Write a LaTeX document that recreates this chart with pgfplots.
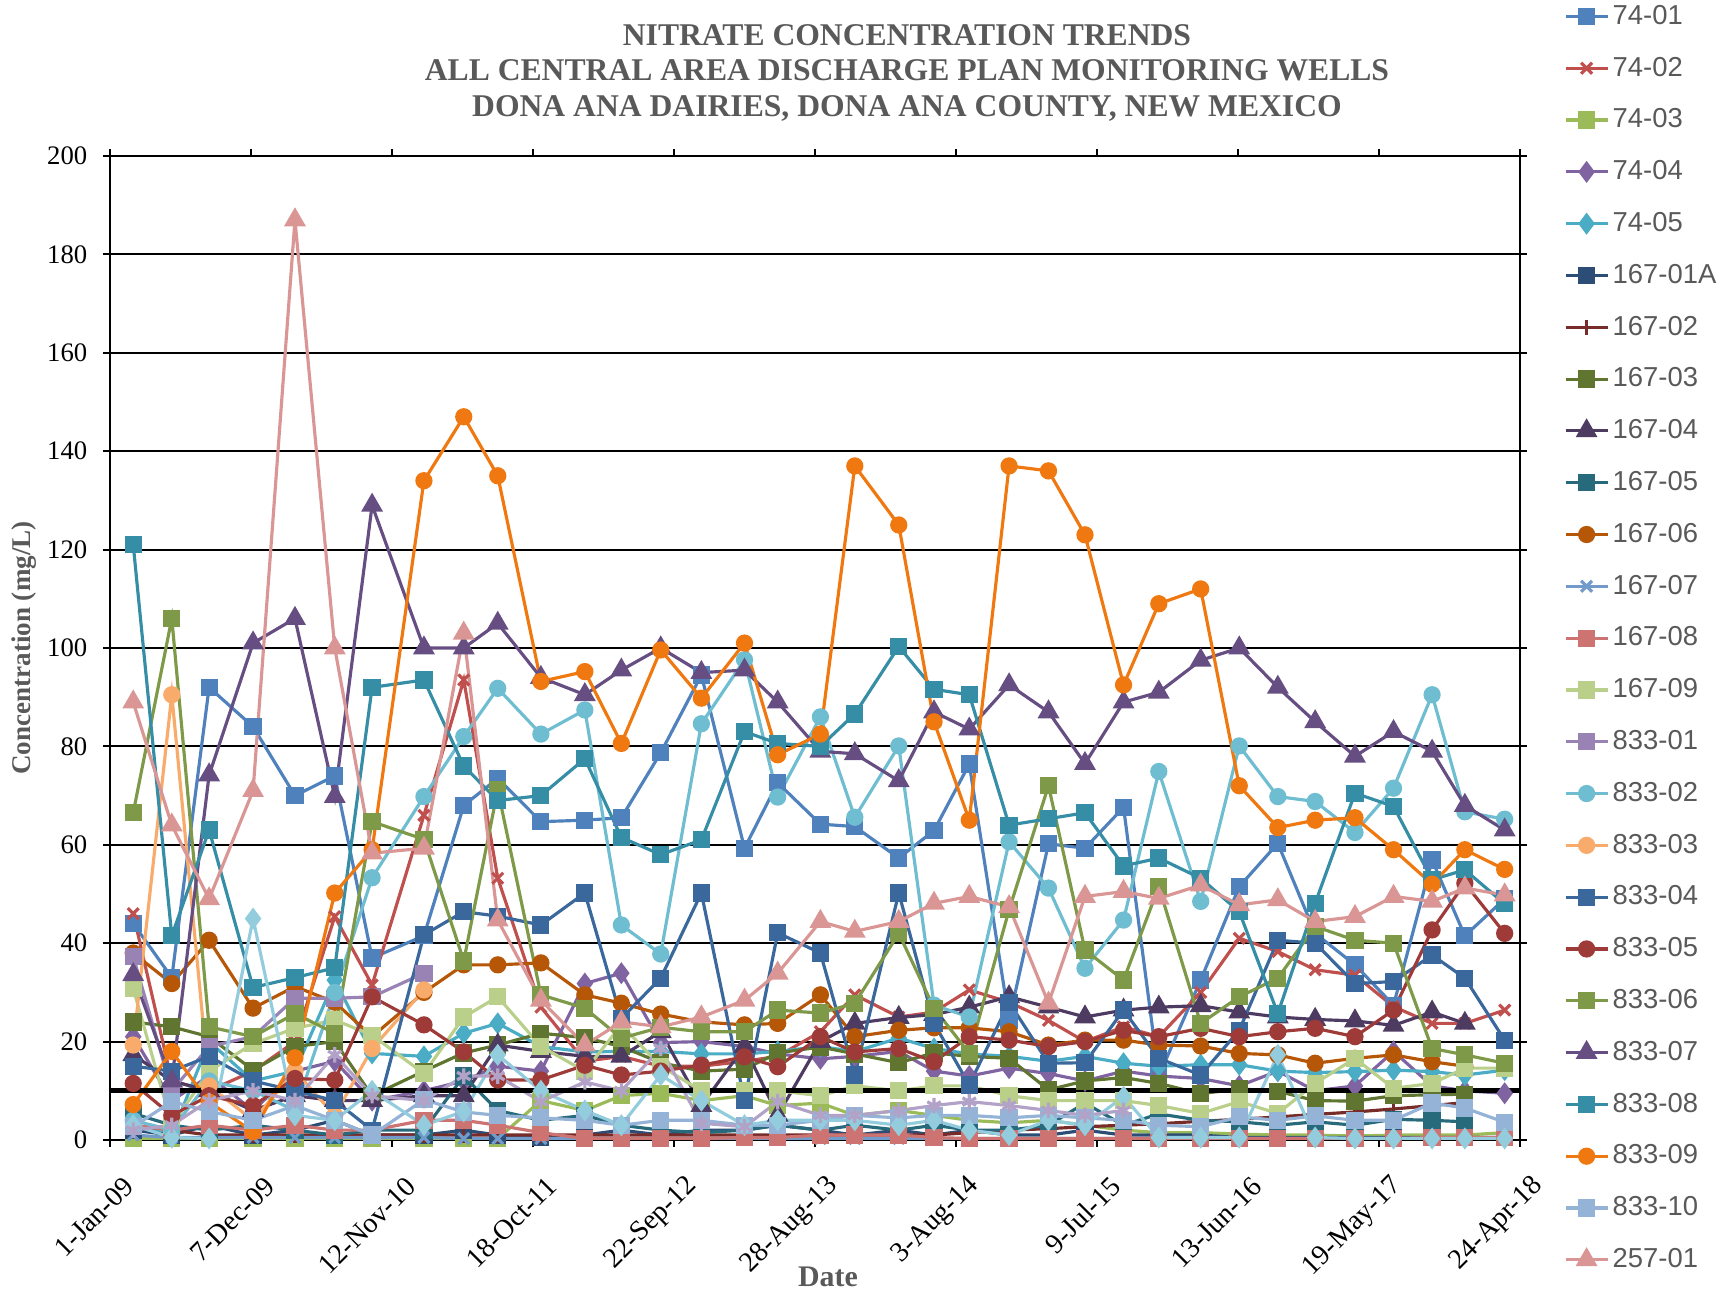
\documentclass[border=0pt]{standalone}
\usepackage{fontspec}
\setmainfont{Liberation Serif}
\newfontfamily\legfont{Liberation Sans}
\usepackage{pgfplots}
\usepackage{pgfplotstable}
\pgfplotsset{compat=1.18}

\definecolor{cA}{HTML}{4F81BD}
\definecolor{cB}{HTML}{C0504D}
\definecolor{cC}{HTML}{9BBB59}
\definecolor{cD}{HTML}{8064A2}
\definecolor{cE}{HTML}{4BACC6}
\definecolor{cF}{HTML}{2C4D75}
\definecolor{cG}{HTML}{772C2A}
\definecolor{cH}{HTML}{5F7530}
\definecolor{cI}{HTML}{4D3B62}
\definecolor{cJ}{HTML}{276A7C}
\definecolor{cK}{HTML}{B65708}
\definecolor{cL}{HTML}{729ACA}
\definecolor{cM}{HTML}{CD7371}
\definecolor{cN}{HTML}{B9CF8A}
\definecolor{cO}{HTML}{9983B5}
\definecolor{cP}{HTML}{6FBDD1}
\definecolor{cQ}{HTML}{F9AB6B}
\definecolor{cR}{HTML}{3A679C}
\definecolor{cS}{HTML}{9E3B39}
\definecolor{cT}{HTML}{7E9A48}
\definecolor{cU}{HTML}{664E83}
\definecolor{cV}{HTML}{358EA6}
\definecolor{cW}{HTML}{F07810}
\definecolor{cX}{HTML}{95B3D7}
\definecolor{cY}{HTML}{D99694}
\definecolor{cZ}{HTML}{93CDDD}
\definecolor{cZZ}{HTML}{B3A2C7}
\definecolor{txtgray}{HTML}{595959}

% d = days since 1-Jan-2009
\pgfplotstableread{
d s1 s2 s3 s4 s5 s6 s7 s8 s9 s10 s11 s12 s13 s14 s15 s16 s17 s18 s19 s20 s21 s22 s23 s24 s25 s26 s27
56 44 46 0.3 21 3 2 3 24 17.3 5.4 38 1 3 30.8 37.3 4 19.3 15 11.5 66.5 33.6 121 7.2 2.7 89 3 2
149 33 12 0.3 8 1 1 2 23 12 3 31.8 0.5 2 3 10 2 90.5 14 5 106 12 41.5 18 7.8 64 0.5 3
239 92 10 0.3 13 20 3 1 21 10 2 40.6 0.5 3 14 19 12 11 17 9 23 74.2 63 7.7 5.8 49 0.3 8
345 84 14 0.3 6 12 1 1 14.2 6 3 26.8 0.5 2 19.6 21 10 4 12 7 21 101 31 1.7 4 71 45 10
446 70 20 0.3 14 14 2 1 19 9 2 31.2 0.5 3 22.7 28.8 6 14 10 12.5 25.7 106 33 16.7 7 187 5 8
542 74 45.4 0.3 16 32.5 4 1 20 8 1 28 0.5 2 24.4 28.8 30 5 8 12.2 21.7 69.8 35 50.2 4 100 4 17.3
632 37 31.5 0.3 8 17.6 1 1 9 8 2 21 0.5 2 21.3 29.1 53.3 18.6 2 29.1 64.7 129 92 59 1 58.3 10 9
757 41.5 66 0.3 10 17 1 1 14 9 2 30 0.5 4 13.5 33.9 69.8 30.5 41.7 23.4 61.1 100 93.5 134 8.2 59.3 3 8
853 68 93.5 0.3 12 21.7 2 1 17.7 9 13 35.6 0.3 4 25 nan 82 nan 46.4 17.9 36.4 100 76 147 5.7 103 5.8 13
935 73.5 53.2 0.3 15 23.7 1 1 19.3 19.3 6 35.6 0.3 3 29.1 nan 91.8 nan 45.5 12.2 71.2 105 69 135 5 44.7 17.3 13
1039 64.7 27 8 14 19 0.5 1 21.7 18 4 36 0.3 1.5 19 nan 82.5 nan 43.7 12.2 29.5 94 70 93.2 4.5 28.4 10 7.8
1145 65 16 6 31.8 17.9 1 1 20.8 17 5 29.5 0.3 0.3 14 nan 87.4 nan 50.2 15.2 26.8 90.5 77.5 95.2 4 19.3 6 11.8
1233 65.5 17 9 33.9 18 2 1 19 17 3 27.8 0.3 0.3 23.4 nan 43.7 nan 24.7 13.2 20.7 95.5 61.5 80.6 3 24 3 10
1328 78.7 15 9.5 19.8 18 1 1 15.7 22 2 25.6 0.3 0.3 15 nan 37.8 nan 32.9 14 22.9 100 58 99.6 4 23 13.2 18.6
1426 94.5 15 8 20 17.5 2 1 14 7 1.5 24 0.3 0.3 10 nan 84.6 nan 50.2 15.2 22 95 61 89.8 4 25 8 3.4
1530 59.3 16 9 19 17.5 2 1 14.4 19 2 23.4 0.3 0.5 10 nan 97.6 nan 8 16.9 22 95.5 83 101 3 28.4 3 2.7
1610 72.6 17 7 17.5 18 3 1 17.7 5 3 23.7 0.3 0.5 10 nan 69.7 nan 42.1 14.9 26.4 89 80.6 78.3 3 33.9 4 7.8
1713 64.2 22 7.5 16.5 19 2 1 18.9 20 2 29.5 0.3 1 9 nan 86 nan 38 21 25.8 79 80 82.5 4 44.4 4 5
1796 63.7 29.5 5 17 18 1 1 17.5 23.7 3 21 0.3 1 11 nan 65.6 nan 13.2 17.9 27.8 78.5 86.6 137 5 42.4 4 5
1902 57.3 25 6 18 20.7 2 1 15.7 24.9 2 22.3 0.3 1 10 nan 80.1 nan 50.2 18.6 42 73 100.3 125 4.5 44.4 3 6
1987 62.9 26 5 14 18.6 1 1 17.7 25.5 3 22.8 0.3 0.5 11 nan 27.4 nan 23.7 15.9 26.8 87 91.6 85 5 48.1 4 7
2072 76.4 30.5 4 13 17.5 2 1.5 17 27 2 22.8 0.3 0.3 11 nan 25 nan 11.2 21 17.6 83.5 90.5 65 5 49.5 2 7.8
2168 24.4 28 3.5 14.6 17 1 2 16.6 29.1 2 22 0.3 0.3 9 nan 60.6 nan 28 20.3 46.8 92.5 64 137 4.5 47.4 1 7
2263 60.2 24.3 4 13.5 16 1 2.3 10.2 27 3 19.3 0.3 0.3 8 nan 51.2 nan 15.6 19 72 87 65.3 136 5 27.8 4 6
2351 59.3 20 3 12 17 2 2.7 12 25 7.5 20.3 0.3 0.3 8 nan 34.9 nan 15.7 20 38.6 76.5 66.5 123 4.5 49.5 3 5
2444 67.6 23 2 14 15.6 1 3 12.7 26.4 3 20.3 0.3 0.3 8 nan 44.7 nan 26.4 22.3 32.5 89 55.7 92.5 4 50.5 8.8 6
2529 13 21 1.5 13 15 1 3.3 11.5 27 5.3 19.3 0.3 0.3 7 nan 74.9 nan 16.6 21 51.5 91 57.3 109 3 49.1 0.5 nan
2630 32.5 30 1.5 12.5 15.3 1 3.8 9.4 27.3 4 19.1 0.3 0.3 5.4 nan 48.5 nan 13.2 22.7 23.7 97.5 53.2 112 2.7 51.8 0.5 nan
2723 51.5 41 1.2 11 15.3 0.5 4.2 10.4 26 3.7 17.6 0.3 0.3 7.8 nan 80.1 nan 22.3 21 29.1 100 46.4 72 4.7 47.8 0.5 nan
2816 60.3 38.3 1 14 14 0.5 4.7 9.9 25 3 17.3 0.3 0.3 5.4 nan 69.8 nan 40.6 22 32.9 92 25.7 63.5 4 48.8 17.3 nan
2906 42 34.6 1 10 13.7 0.5 5.2 8 24.5 3.7 15.6 0.3 0.3 11.5 nan 68.8 nan 40 22.7 43.4 85 48.1 65 4.9 44.4 0.5 nan
3002 35.6 33.5 0.8 11 13.9 0.5 5.7 7.9 24.2 3 16.6 0.3 0.3 16.6 nan 62.5 nan 31.8 21 40.6 78 70.5 65.5 4 45.4 0.3 nan
3095 27.4 27.1 1 18 14.2 0.5 6.3 9 23.3 4.2 17.3 0.3 0.3 10.5 nan 71.5 nan 32.2 26.4 40 83 67.8 59 4 49.5 0.3 nan
3188 56.9 23.7 1 11 13.9 0.5 7 9.2 26 4 15.9 0.3 0.5 11.5 nan 90.5 nan 37.6 42.7 18.6 79 52.9 52 7.5 48.5 0.3 nan
3267 41.5 23.7 1 10 13.2 0.5 7.6 9.3 23.7 3.7 15 0.3 0.5 14.6 nan 66.7 nan 32.9 52.2 17.3 68 54.9 59 6.5 51.2 0.3 nan
3363 49 26.4 1.5 9.5 14.2 0.5 nan nan nan nan nan 0.3 0.5 14.6 nan 65.2 nan 20.3 42 15.6 63 48 55 3.6 49.8 0.3 nan
}\data

\begin{document}
\begin{tikzpicture}
\useasboundingbox (0,0) rectangle (17.27cm,12.94cm);
\begin{axis}[
  at={(1.10cm,1.54cm)}, anchor=south west,
  scale only axis, width=14.1cm, height=9.84cm,
  xmin=0, xmax=3400, ymin=0, ymax=200,
  xtick={0,340,680,1020,1360,1700,2040,2380,2720,3060,3400},
  xticklabels={1-Jan-09,7-Dec-09,12-Nov-10,18-Oct-11,22-Sep-12,28-Aug-13,3-Aug-14,9-Jul-15,13-Jun-16,19-May-17,24-Apr-18},
  ytick={0,20,...,200},
  ymajorgrids, major grid style={black, line width=0.6pt},
  axis line style={black, line width=0.8pt},
  tick align=outside, major tick length=0.07cm, tick style={black, line width=0.6pt},
  /pgf/number format/assume math mode=true,
  xticklabel style={font=\fontsize{8}{9}\selectfont, rotate=45, anchor=east, inner sep=0pt, xshift=-0.11cm, yshift=-0.38cm},
  yticklabel style={font=\fontsize{7.6}{9}\selectfont, inner sep=0pt, anchor=east, xshift=-0.15cm},
  legend style={at={(axis description cs:1,1)}, anchor=north west, xshift=0.44cm, yshift=43.1pt,
    draw=none, fill=none, inner sep=0pt, outer sep=0pt,
    font=\legfont\fontsize{7.8}{8.5}\selectfont, text=txtgray,
    row sep=7.94pt, column sep=1pt,
    nodes={inner sep=0pt, text height=5.6pt, text depth=1.2pt}},
  legend cell align=left,
  legend image code/.code={\draw[mark repeat=2,mark phase=2,#1] plot coordinates {(0cm,0cm) (0.21cm,0cm) (0.42cm,0cm)};},
  every axis plot/.append style={line width=0.9pt, mark options={solid}},
]
\addplot[cA, mark=square*, mark size=2pt] table[x=d,y=s1]{\data}; \addlegendentry{74-01}
\addplot[cB, mark=x, mark size=2.2pt] table[x=d,y=s2]{\data}; \addlegendentry{74-02}
\addplot[cC, mark=square*, mark size=2pt] table[x=d,y=s3]{\data}; \addlegendentry{74-03}
\addplot[cD, mark=diamond*, mark size=2.4pt] table[x=d,y=s4]{\data}; \addlegendentry{74-04}
\addplot[cE, mark=diamond*, mark size=2.4pt] table[x=d,y=s5]{\data}; \addlegendentry{74-05}
\addplot[cF, mark=square*, mark size=2pt] table[x=d,y=s6]{\data}; \addlegendentry{167-01A}
\addplot[cG, mark=|, mark size=2.2pt] table[x=d,y=s7]{\data}; \addlegendentry{167-02}
\addplot[cH, mark=square*, mark size=2pt] table[x=d,y=s8]{\data}; \addlegendentry{167-03}
\addplot[cI, mark=triangle*, mark size=2.7pt] table[x=d,y=s9]{\data}; \addlegendentry{167-04}
\addplot[cJ, mark=square*, mark size=2pt] table[x=d,y=s10]{\data}; \addlegendentry{167-05}
\addplot[cK, mark=*, mark size=2pt] table[x=d,y=s11]{\data}; \addlegendentry{167-06}
\addplot[cL, mark=x, mark size=2.2pt] table[x=d,y=s12]{\data}; \addlegendentry{167-07}
\addplot[cM, mark=square*, mark size=2pt] table[x=d,y=s13]{\data}; \addlegendentry{167-08}
\addplot[cN, mark=square*, mark size=2pt] table[x=d,y=s14]{\data}; \addlegendentry{167-09}
\addplot[cO, mark=square*, mark size=2pt] table[x=d,y=s15]{\data}; \addlegendentry{833-01}
\addplot[cP, mark=*, mark size=2pt] table[x=d,y=s16]{\data}; \addlegendentry{833-02}
\addplot[cQ, mark=*, mark size=2pt] table[x=d,y=s17]{\data}; \addlegendentry{833-03}
\addplot[cR, mark=square*, mark size=2pt] table[x=d,y=s18]{\data}; \addlegendentry{833-04}
\addplot[cS, mark=*, mark size=2pt] table[x=d,y=s19]{\data}; \addlegendentry{833-05}
\addplot[cT, mark=square*, mark size=2pt] table[x=d,y=s20]{\data}; \addlegendentry{833-06}
\addplot[cU, mark=triangle*, mark size=2.7pt] table[x=d,y=s21]{\data}; \addlegendentry{833-07}
\addplot[cV, mark=square*, mark size=2pt] table[x=d,y=s22]{\data}; \addlegendentry{833-08}
\addplot[cW, mark=*, mark size=2pt] table[x=d,y=s23]{\data}; \addlegendentry{833-09}
\addplot[cX, mark=square*, mark size=2pt] table[x=d,y=s24]{\data}; \addlegendentry{833-10}
\addplot[cY, mark=triangle*, mark size=2.7pt] table[x=d,y=s25]{\data}; \addlegendentry{257-01}
\addplot[cZ, mark=diamond*, mark size=2.4pt, forget plot] table[x=d,y=s26]{\data};
\addplot[cZZ, mark=asterisk, mark size=2.2pt, forget plot] table[x=d,y=s27]{\data};
\addplot[black, line width=1.5pt, no marks, forget plot] coordinates {(0,10) (3400,10)};
\end{axis}
\node[font=\bfseries\fontsize{9}{10.2}\selectfont, text=txtgray, align=center] at (9.07cm,12.21cm)
  {NITRATE CONCENTRATION TRENDS\\ALL CENTRAL AREA DISCHARGE PLAN MONITORING WELLS\\DONA ANA DAIRIES, DONA ANA COUNTY, NEW MEXICO};
\node[rotate=90, font=\bfseries\fontsize{7.7}{9}\selectfont, text=txtgray] at (0.24cm,6.46cm) {Concentration (mg/L)};
\node[font=\bfseries\fontsize{8.5}{10}\selectfont, text=txtgray] at (8.28cm,0.17cm) {Date};
\end{tikzpicture}
\end{document}
